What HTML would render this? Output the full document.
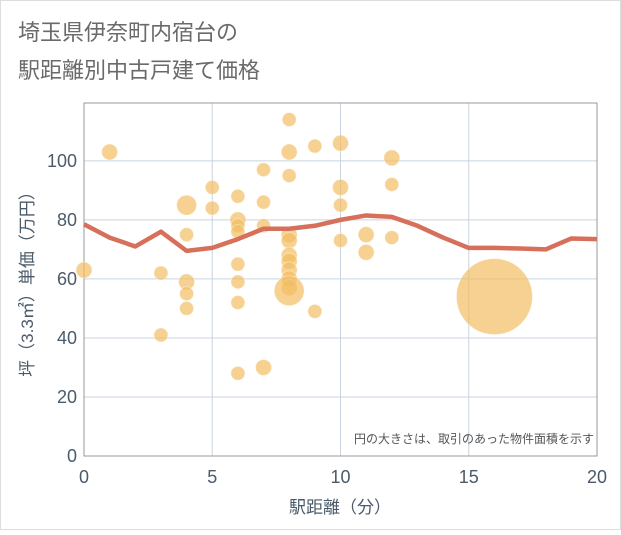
<!DOCTYPE html>
<html><head><meta charset="utf-8"><style>
body{margin:0;background:#fff}
svg text{font-family:"Liberation Sans","Noto Sans CJK JP",sans-serif}
</style></head><body>
<svg width="621" height="530" id="c">
<rect x="0.5" y="0.5" width="620" height="529" fill="#fff" stroke="#ddd"/>
<text x="18" y="40" font-size="22" fill="#6a6a6a">埼玉県伊奈町内宿台の</text>
<text x="18" y="78" font-size="22" fill="#6a6a6a">駅距離別中古戸建て価格</text>
<g id="grid"></g><g id="marks"></g>
<text x="594" y="443" font-size="12" fill="#555" text-anchor="end">円の大きさは、取引のあった物件面積を示す</text>
<text x="340" y="513" font-size="17" fill="#4a5a6a" text-anchor="middle">駅距離（分）</text>
<text transform="translate(33,280) rotate(-90)" font-size="17" fill="#4a5a6a" text-anchor="middle">坪（3.3㎡）単価（万円）</text>
</svg>
<script>
const xTicks=[0,5,10,15,20];
const yTicks=[0,20,40,60,80,100];
const px=[0,1,3,3,4,4,4,4,4,5,5,6,6,6,6,6,6,6,6,7,7,7,7,8,8,8,8,8,8,8,8,8,8,8,9,9,10,10,10,10,11,11,12,12,12,16];
const py=[63,103,62,41,85,75,59,55,50,91,84,88,80,78,76,65,59,52,28,97,86,78,30,114,103,95,75,73,68,66,63,60,57,56,105,49,106,91,85,73,75,69,101,92,74,54];
const pr=[8,8,7,7,10,7,8,7,7,7,7,7,8,7,7,7,7,7,7,7,7,7,8,7,8,7,8,8,8,8,8,8,8,15,7,7,8,8,7,7,8,8,8,7,7,38];
const lx=[0,1,2,3,4,5,6,7,8,9,10,11,12,13,14,15,16,17,18,19,20];
const ly=[78.5,74,71,76,69.5,70.5,73.5,77,77,78,80,81.5,81,78,74,70.5,70.5,70.3,70,73.7,73.5];
const X0=84,X1=597,Y0=456,YT=103,YMAX=119.6;
const sx=v=>X0+(X1-X0)*v/20, sy=v=>Y0-(Y0-YT)*v/YMAX;
const NS='http://www.w3.org/2000/svg';
function mk(t,a,p){const e=document.createElementNS(NS,t);for(const k in a)e.setAttribute(k,a[k]);p.appendChild(e);return e;}
const g=document.getElementById('grid'),m=document.getElementById('marks');
xTicks.forEach(t=>{const l=mk('line',{x1:sx(t),x2:sx(t),y1:YT,y2:Y0,stroke:'#c8d4e0'},g);


const s=mk('text',{x:sx(t),y:483,'font-size':18,fill:'#4a5a6a','text-anchor':'middle'},g);s.textContent=t;

});
yTicks.forEach(t=>{const l=mk('line',{x1:X0,x2:X1,y1:sy(t),y2:sy(t),stroke:'#c8d4e0'},g);


const s=mk('text',{x:77,y:sy(t)+6,'font-size':18,fill:'#4a5a6a','text-anchor':'end'},g);s.textContent=t;

});
const fr=mk('rect',{x:X0,y:YT,width:X1-X0,height:Y0-YT,fill:'none',stroke:'#999'},g);


px.forEach((v,i)=>{const c=mk('circle',{cx:sx(v),cy:sy(py[i]),r:pr[i],fill:'#f2bd62','fill-opacity':0.7,stroke:'#fff','stroke-opacity':0.4},m);

});
const p=mk('polyline',{points:lx.map((v,i)=>sx(v)+','+sy(ly[i])).join(' '),fill:'none',stroke:'#d6705a','stroke-width':4.5,'stroke-linejoin':'round'},m);


</script>
</body></html>
